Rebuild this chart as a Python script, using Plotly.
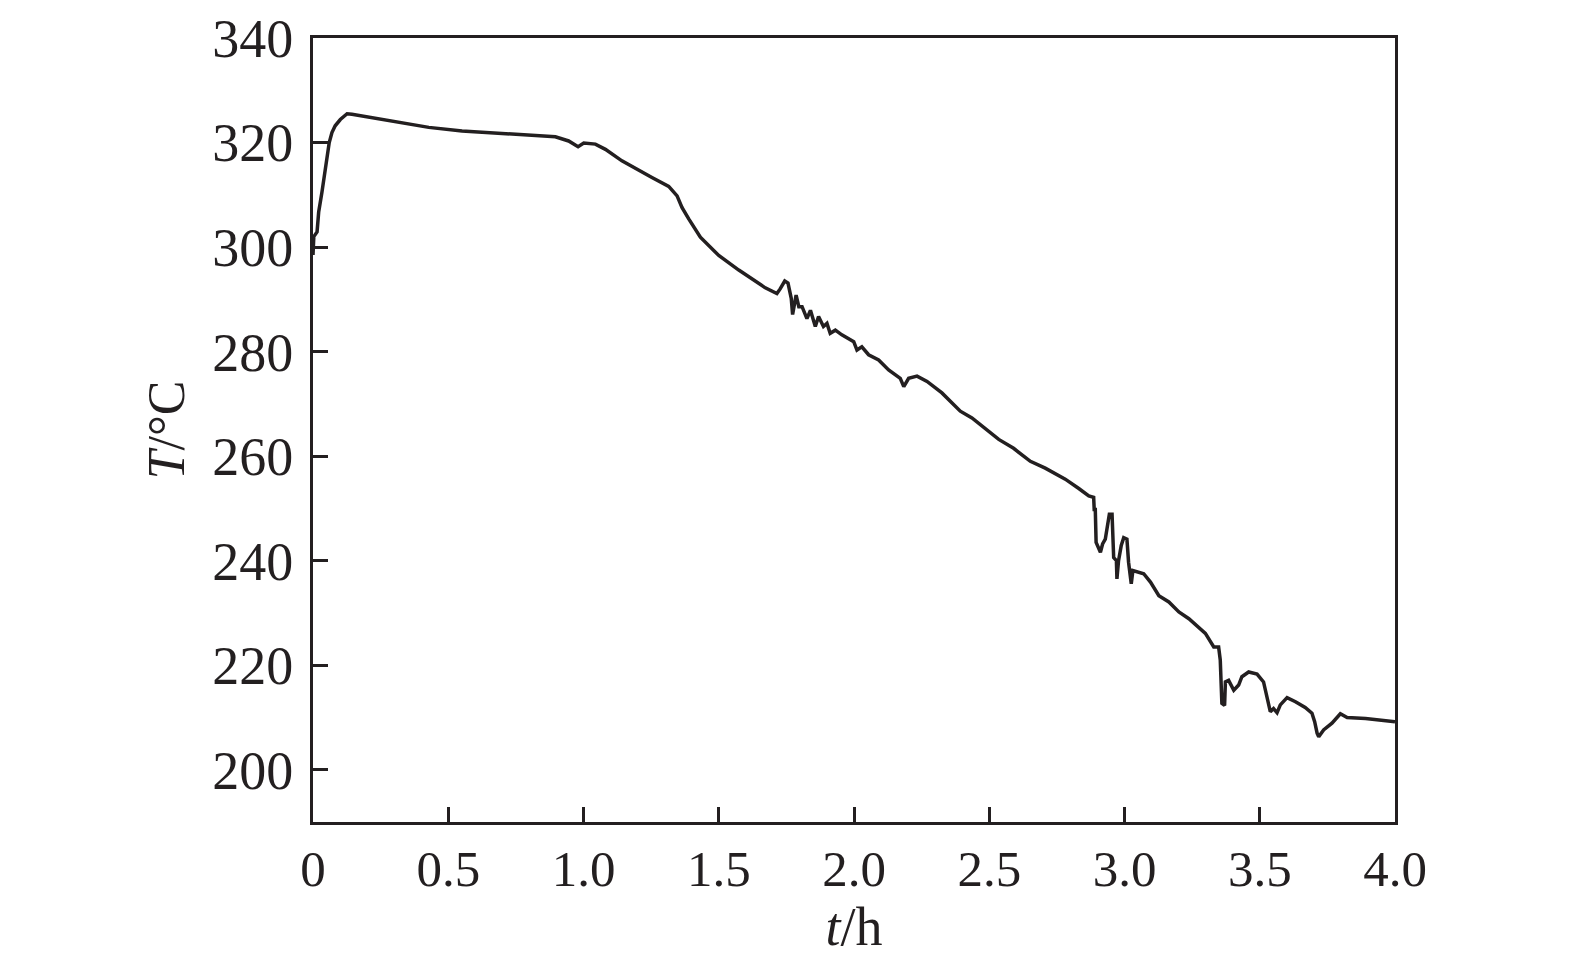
import plotly.graph_objects as go

t_h = [0, 0.003, 0.015, 0.021, 0.033, 0.043, 0.052, 0.060, 0.070, 0.082, 0.101, 0.126, 0.144,
       0.267, 0.428, 0.551, 0.674, 0.797, 0.896, 0.945, 0.980, 1.001, 1.044, 1.081, 1.142,
       1.253, 1.315, 1.346, 1.364, 1.389, 1.432, 1.500, 1.574, 1.672, 1.715, 1.727, 1.744,
       1.756, 1.768, 1.773, 1.786, 1.796, 1.808, 1.826, 1.839, 1.857, 1.869, 1.887, 1.900,
       1.912, 1.931, 1.955, 1.980, 1.999, 2.011, 2.029, 2.054, 2.091, 2.128, 2.171, 2.184,
       2.202, 2.233, 2.270, 2.325, 2.393, 2.436, 2.535, 2.590, 2.652, 2.707, 2.781, 2.831,
       2.868, 2.886, 2.888, 2.892, 2.895, 2.911, 2.919, 2.929, 2.936, 2.944, 2.954, 2.960,
       2.970, 2.972, 2.978, 2.988, 2.997, 3.009, 3.015, 3.025, 3.031, 3.052, 3.071, 3.096,
       3.127, 3.164, 3.201, 3.238, 3.275, 3.299, 3.330, 3.348, 3.354, 3.360, 3.370, 3.373,
       3.385, 3.404, 3.422, 3.434, 3.459, 3.490, 3.514, 3.523, 3.539, 3.551, 3.564, 3.576,
       3.601, 3.632, 3.668, 3.693, 3.703, 3.712, 3.718, 3.736, 3.767, 3.798, 3.823, 3.891, 4.0]

T_c = [298.5, 302.0, 302.9, 306.7, 310.5, 313.7, 316.8, 320.0, 321.9, 323.2, 324.4, 325.5, 325.4,
       324.3, 322.9, 322.2, 321.8, 321.3, 321.1, 320.3, 319.2, 319.9, 319.7, 318.7, 316.5,
       313.3, 311.6, 309.8, 307.6, 305.4, 301.9, 298.4, 295.6, 292.2, 291.1, 292.0, 293.5,
       293.1, 290.2, 287.1, 290.8, 288.6, 288.6, 286.3, 287.9, 284.8, 286.7, 284.8, 285.4,
       283.5, 284.1, 283.2, 282.5, 281.9, 280.3, 280.9, 279.4, 278.4, 276.5, 274.9, 273.3,
       274.9, 275.3, 274.3, 272.1, 268.6, 267.3, 263.2, 261.5, 259.0, 257.7, 255.6, 253.8,
       252.4, 252.1, 249.8, 249.8, 243.5, 241.6, 243.2, 244.1, 246.9, 248.9, 248.9, 240.6,
       240.0, 236.5, 240.0, 242.9, 244.4, 244.1, 239.7, 235.6, 238.1, 237.8, 237.5, 235.9,
       233.3, 232.1, 230.2, 228.9, 227.3, 226.1, 223.5, 223.5, 221.0, 212.7, 212.3, 216.8,
       217.1, 215.2, 216.2, 217.8, 218.7, 218.3, 216.8, 214.6, 211.1, 211.7, 210.9, 212.4,
       213.8, 213.0, 211.9, 210.8, 209.2, 207.0, 206.3, 207.6, 208.9, 210.7, 210.0, 209.8, 209.2]

x_ticks = [0, 0.5, 1.0, 1.5, 2.0, 2.5, 3.0, 3.5, 4.0]
x_labels = ["0", "0.5", "1.0", "1.5", "2.0", "2.5", "3.0", "3.5", "4.0"]
y_ticks = [200, 220, 240, 260, 280, 300, 320, 340]
y_labels = ["200", "220", "240", "260", "280", "300", "320", "340"]

ink = "#231f20"
font = "Liberation Serif, Times New Roman, serif"

fig = go.Figure()
fig.add_trace(go.Scatter(x=t_h, y=T_c, mode="lines",
                         line=dict(color=ink, width=3.5), showlegend=False))

fig.update_layout(
    width=1575, height=965,
    margin=dict(l=305, r=188, t=30, b=151),
    paper_bgcolor="white", plot_bgcolor="white",
    font=dict(family=font, color=ink),
)
fig.update_xaxes(
    range=[0, 4], tickvals=x_ticks, ticktext=x_labels,
    showline=True, linewidth=3, linecolor=ink, mirror=True,
    ticks="inside", ticklen=15, tickwidth=3, tickcolor=ink,
    showgrid=False, zeroline=False, automargin=False,
    ticklabeloverflow="allow",
    tickfont=dict(size=51, family=font, color=ink),
    title=dict(text="<i>t</i>/h", font=dict(size=54, family=font, color=ink), standoff=0),
)
fig.update_yaxes(
    range=[190, 340], tickvals=y_ticks, ticktext=y_labels,
    showline=True, linewidth=3, linecolor=ink, mirror=True,
    ticks="inside", ticklen=15, tickwidth=3, tickcolor=ink,
    showgrid=False, zeroline=False, ticklabelstandoff=6, automargin=False,
    ticklabeloverflow="allow",
    tickfont=dict(size=54, family=font, color=ink),
    title=dict(text="<i>T</i>/°C", font=dict(size=52, family=font, color=ink), standoff=12),
)

fig.write_html("out.html")
